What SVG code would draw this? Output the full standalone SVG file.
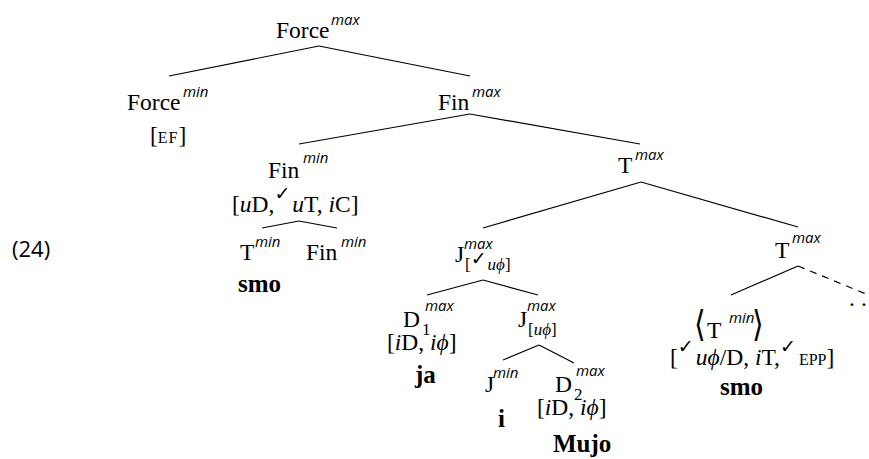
<svg xmlns="http://www.w3.org/2000/svg" width="869" height="459" viewBox="0 0 869 459">
<style>
text{font-family:"Liberation Serif","DejaVu Serif",serif;font-size:23.5px;fill:#000}
.s{font-family:"Open Sans","Noto Sans",sans-serif;font-style:italic;font-size:15px}
.sub{font-size:17px}
.it{font-style:italic}
.b{font-weight:bold;font-size:25px}
.sc{font-size:16px}
.ck{font-family:"DejaVu Sans",sans-serif;font-size:19px}
.ang{font-family:"DejaVu Sans",sans-serif;font-size:30px}
.num{font-family:"Open Sans","Noto Sans",sans-serif;font-size:22px}
line{stroke:#000;stroke-width:1.2}
.d{stroke-dasharray:7,6}
</style>
<g id="edges">
<line x1="319" y1="46" x2="169" y2="76"/>
<line x1="319" y1="46" x2="470" y2="76"/>
<line x1="470" y1="114" x2="299" y2="144"/>
<line x1="470" y1="114" x2="640" y2="144"/>
<line x1="299" y1="221" x2="262" y2="228"/>
<line x1="299" y1="221" x2="337" y2="228"/>
<line x1="641" y1="182" x2="483" y2="228"/>
<line x1="641" y1="182" x2="798" y2="227"/>
<line x1="483" y1="280" x2="427" y2="295"/>
<line x1="483" y1="280" x2="538" y2="295"/>
<line x1="539" y1="345" x2="503" y2="360"/>
<line x1="539" y1="345" x2="574" y2="363"/>
<line x1="798" y1="266" x2="731" y2="295"/>
<line class="d" x1="798" y1="266" x2="866" y2="294"/>
</g>
<g id="ex"><text class="num" x="12" y="257">(24)</text></g>
<g id="forcemax"><text x="276" y="38">Force</text><text class="s" x="331" y="25">max</text></g>
<g id="forcemin"><text x="127" y="110">Force</text><text class="s" x="183" y="97">min</text>
<text x="150" y="143">[<tspan class="sc" letter-spacing="1">EF</tspan>]</text></g>
<g id="finmax"><text x="438" y="110">Fin</text><text class="s" x="472" y="97">max</text></g>
<g id="finmin"><text x="268" y="178">Fin</text><text class="s" x="303" y="163">min</text>
<text x="232" y="212">[<tspan class="it">u</tspan>D,<tspan class="ck" dy="-12">✓</tspan><tspan class="it" dy="12" dx="2">u</tspan>T, <tspan class="it">i</tspan>C]</text></g>
<g id="tmin1"><text x="240" y="260">T</text><text class="s" x="255" y="247">min</text>
<text class="b" x="238" y="292">smo</text></g>
<g id="finmin2"><text x="306" y="260">Fin</text><text class="s" x="341" y="247">min</text></g>
<g id="tmax1"><text x="618" y="173">T</text><text class="s" x="635" y="160">max</text></g>
<g id="j1"><text x="455" y="262">J</text><text class="s" x="464" y="249">max</text>
<text class="sub" x="465" y="270">[<tspan class="ck" font-size="14" dy="-5">✓</tspan><tspan class="it" dy="5" dx="1">uϕ</tspan>]</text></g>
<g id="d1"><text x="403" y="327">D</text><text class="sub" x="422" y="335">1</text><text class="s" x="425" y="311">max</text>
<text x="387" y="350">[<tspan class="it">i</tspan>D, <tspan class="it">iϕ</tspan>]</text>
<text class="b" x="415" y="383">ja</text></g>
<g id="j2"><text x="518" y="327">J</text><text class="s" x="527" y="311">max</text>
<text class="sub" x="528" y="335">[<tspan class="it">uϕ</tspan>]</text></g>
<g id="jmin"><text x="485" y="392">J</text><text class="s" x="493" y="378">min</text>
<text class="b" x="498" y="427">i</text></g>
<g id="d2"><text x="555" y="392">D</text><text class="sub" x="574" y="400">2</text><text class="s" x="576" y="376">max</text>
<text x="537" y="415">[<tspan class="it">i</tspan>D, <tspan class="it">iϕ</tspan>]</text>
<text class="b" x="553" y="452">Mujo</text></g>
<g id="tmax2"><text x="775" y="258">T</text><text class="s" x="792" y="243">max</text></g>
<g id="dots"><text x="849 861" y="306">..</text></g>
<g id="tmin2"><text class="ang" x="694" y="336" transform="translate(0,-67.2) scale(1,1.2)">⟨</text><text x="707" y="338">T</text><text class="s" x="729" y="323">min</text><text class="ang" x="752" y="336" transform="translate(0,-67.2) scale(1,1.2)">⟩</text>
<text x="670" y="365">[<tspan class="ck" dy="-12">✓</tspan><tspan class="it" dy="12" dx="2">uϕ</tspan>/D, <tspan class="it">i</tspan>T,<tspan class="ck" dy="-12">✓</tspan><tspan class="sc" dy="12" dx="3">EPP</tspan>]</text>
<text class="b" x="720" y="395">smo</text></g>
</svg>
